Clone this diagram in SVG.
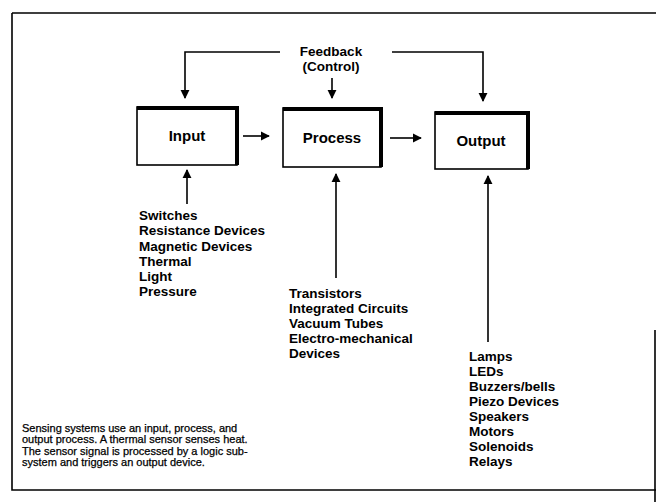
<svg xmlns="http://www.w3.org/2000/svg" width="656" height="502" viewBox="0 0 656 502">
<defs>
<marker id="ah" viewBox="0 0 10 10" refX="9" refY="5" markerWidth="9" markerHeight="11" markerUnits="userSpaceOnUse" orient="auto">
<path d="M0,0 L10,5 L0,10 Z" fill="#000"/>
</marker>
<style>
.t{font-family:"Liberation Sans",Arial,sans-serif;fill:#000}
.lab{font-size:15px;font-weight:bold}
.lst{font-size:13.5px;font-weight:bold}
.par{font-size:11px;stroke:#000;stroke-width:0.25}
.ln{stroke:#000;stroke-width:1.6;fill:none}
.box{fill:#fff;stroke:#000;stroke-width:1.6}
.sh{stroke:#000;stroke-width:4;fill:none}
</style>
</defs>
<rect width="656" height="502" fill="#fff"/>
<g id="frame">
<path d="M12,13 H656 M12,13 V490 H656 M655,330 V502" stroke="#000" stroke-width="1.6" fill="none"/>
</g>
<g id="connectors">
<path class="ln" d="M280,52 H185 V98" marker-end="url(#ah)"/>
<path class="ln" d="M392,52 H483 V101" marker-end="url(#ah)"/>
<path class="ln" d="M332,78 V98" marker-end="url(#ah)"/>
<path class="ln" d="M243,136 H269" marker-end="url(#ah)"/>
<path class="ln" d="M390,138 H421" marker-end="url(#ah)"/>
<path class="ln" d="M187,204 V170" marker-end="url(#ah)"/>
<path class="ln" d="M336,278 V174" marker-end="url(#ah)"/>
<path class="ln" d="M488,342 V176" marker-end="url(#ah)"/>
</g>
<g id="feedback">
<text class="t lst" x="331" y="56" text-anchor="middle">Feedback</text>
<text class="t lst" x="331" y="71" text-anchor="middle">(Control)</text>
</g>
<g id="input">
<rect class="box" x="137" y="107" width="100" height="58"/>
<path class="sh" d="M137,108 H237 V165"/>
<text class="t lab" x="187" y="141" text-anchor="middle">Input</text>
</g>
<g id="process">
<rect class="box" x="283" y="108" width="98" height="59"/>
<path class="sh" d="M283,109 H381 V167"/>
<text class="t lab" x="332" y="143" text-anchor="middle">Process</text>
</g>
<g id="output">
<rect class="box" x="435" y="112" width="93" height="57"/>
<path class="sh" d="M435,113 H528 V169"/>
<text class="t lab" x="481" y="146" text-anchor="middle">Output</text>
</g>
<g id="inputs">
<text class="t lst" x="139" y="220">Switches</text>
<text class="t lst" x="139" y="235">Resistance Devices</text>
<text class="t lst" x="139" y="251">Magnetic Devices</text>
<text class="t lst" x="139" y="266">Thermal</text>
<text class="t lst" x="139" y="281">Light</text>
<text class="t lst" x="139" y="296">Pressure</text>
</g>
<g id="processors">
<text class="t lst" x="289" y="298">Transistors</text>
<text class="t lst" x="289" y="313">Integrated Circuits</text>
<text class="t lst" x="289" y="328">Vacuum Tubes</text>
<text class="t lst" x="289" y="343">Electro-mechanical</text>
<text class="t lst" x="289" y="358">Devices</text>
</g>
<g id="outputs">
<text class="t lst" x="469" y="361">Lamps</text>
<text class="t lst" x="469" y="376">LEDs</text>
<text class="t lst" x="469" y="391">Buzzers/bells</text>
<text class="t lst" x="469" y="406">Piezo Devices</text>
<text class="t lst" x="469" y="421">Speakers</text>
<text class="t lst" x="469" y="436">Motors</text>
<text class="t lst" x="469" y="451">Solenoids</text>
<text class="t lst" x="469" y="466">Relays</text>
</g>
<g id="caption">
<text class="t par" x="22" y="432">Sensing systems use an input, process, and</text>
<text class="t par" x="22" y="443">output process. A thermal sensor senses heat.</text>
<text class="t par" x="22" y="455">The sensor signal is processed by a logic sub-</text>
<text class="t par" x="22" y="466">system and triggers an output device.</text>
</g>
</svg>
